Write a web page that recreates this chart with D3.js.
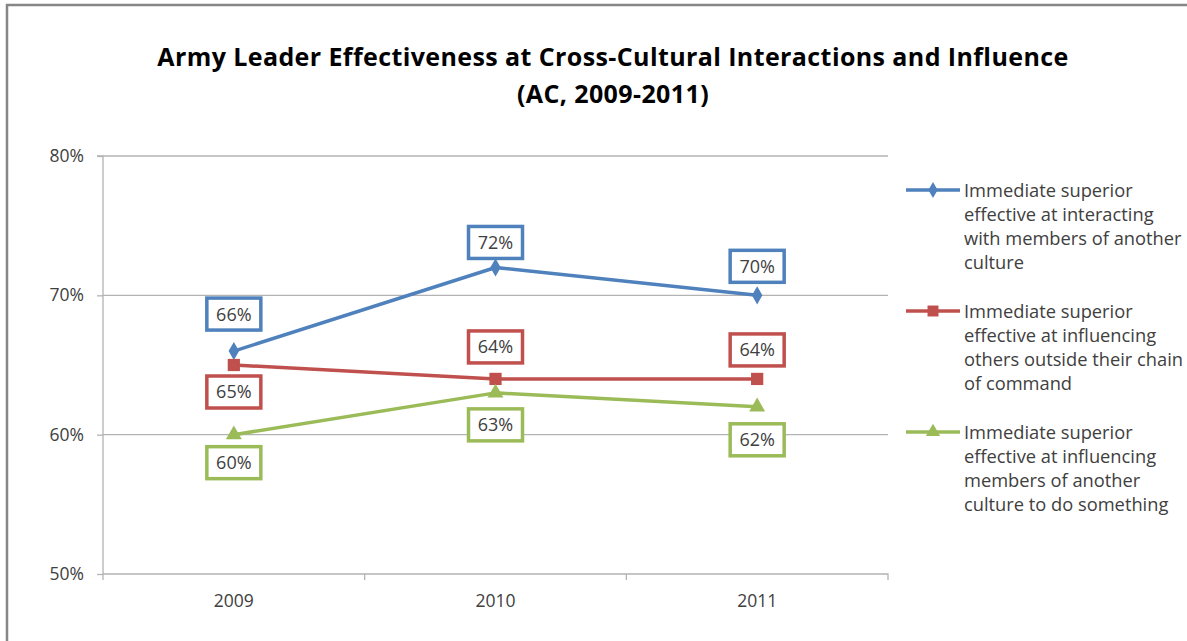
<!DOCTYPE html>
<html>
<head>
<meta charset="utf-8">
<script src="https://cdn.jsdelivr.net/npm/d3@7"></script>
<style>
    body { margin: 0; background: #fff; }
    svg { display: block; font-family: "Open Sans", sans-serif; }
</style>
</head>
<body>
<svg id="chart"></svg>
<script>
// data
const years = ['2009', '2010', '2011'];
const interacting = [66, 72, 70];
const influencingOthers = [65, 64, 64];
const influencingCulture = [60, 63, 62];
const yTicks = [50, 60, 70, 80];
const seriesNames = [
    ['Immediate superior', 'effective at interacting', 'with members of another', 'culture'],
    ['Immediate superior', 'effective at influencing', 'others outside their chain', 'of command'],
    ['Immediate superior', 'effective at influencing', 'members of another', 'culture to do something']
];

// look
const colors = ['#4F81BD', '#C0504D', '#9BBB59'];
const markers = [d3.symbolDiamond, d3.symbolSquare, d3.symbolTriangle];
const markerSize = [95, 150, 110];
// vertical offset of each data label box from its point
const labelDy = [
    [-37, -25, -29],
    [27, -32, -29],
    [28, 32, 33]
];

const width = 1187;
const height = 641;
const margin = { top: 156, left: 103, right: 299, bottom: 67 };

const svg = d3.select('#chart').attr('width', width).attr('height', height);

// chart frame
svg.append('rect')
    .attr('x', 7).attr('y', 5)
    .attr('width', 1200).attr('height', 700)
    .attr('fill', 'none')
    .attr('stroke', '#868686')
    .attr('stroke-width', 2.5);

// title
const title = svg.append('text')
    .attr('text-anchor', 'middle')
    .attr('font-weight', 'bold')
    .attr('font-size', 25)
    .attr('letter-spacing', 0.4)
    .attr('fill', '#000');
title.append('tspan').attr('x', 613).attr('y', 66)
    .text('Army Leader Effectiveness at Cross-Cultural Interactions and Influence');
title.append('tspan').attr('x', 613).attr('y', 103)
    .text('(AC, 2009-2011)');

const x = d3.scaleBand()
    .domain(years)
    .range([margin.left, width - margin.right]);

const y = d3.scaleLinear()
    .domain([50, 80])
    .range([height - margin.bottom, margin.top]);

// gridlines
svg.append('g')
    .selectAll('line')
    .data(yTicks.slice(1))
    .enter()
    .append('line')
    .attr('x1', margin.left)
    .attr('x2', width - margin.right)
    .attr('y1', d => y(d))
    .attr('y2', d => y(d))
    .attr('stroke', '#b3b3b3')
    .attr('stroke-width', 1.3);

// y axis
const yAxis = svg.append('g')
    .attr('transform', 'translate(' + margin.left + ',0)')
    .call(d3.axisLeft(y).tickValues(yTicks).tickFormat(d => d + '%').tickSize(6).tickPadding(13));
yAxis.select('.domain').attr('stroke', '#b3b3b3').attr('stroke-width', 1.3)
    .attr('d', 'M-6,' + y(80) + 'H0V' + y(50));
yAxis.selectAll('.tick line').attr('stroke', '#b3b3b3').attr('stroke-width', 1.3);
yAxis.selectAll('.tick text')
    .attr('font-size', 17.5)
    .attr('fill', '#404040')
    .attr('font-family', '"Open Sans", sans-serif');

// x axis
const xAxis = svg.append('g')
    .attr('transform', 'translate(0,' + y(50) + ')')
    .call(d3.axisBottom(x).tickSize(0).tickPadding(21));
xAxis.select('.domain').attr('stroke', '#b3b3b3').attr('stroke-width', 1.3)
    .attr('d', 'M' + margin.left + ',0H' + (width - margin.right) + 'V6');
xAxis.selectAll('.tick text')
    .attr('font-size', 17.5)
    .attr('fill', '#404040')
    .attr('font-family', '"Open Sans", sans-serif');
// tick marks between categories
svg.append('g')
    .selectAll('line')
    .data(years)
    .enter()
    .append('line')
    .attr('x1', d => x(d))
    .attr('x2', d => x(d))
    .attr('y1', y(50))
    .attr('y2', y(50) + 6)
    .attr('stroke', '#b3b3b3')
    .attr('stroke-width', 1.3);

const allSeries = [interacting, influencingOthers, influencingCulture];
const cx = d => x(d) + x.bandwidth() / 2;

const line = d3.line()
    .x((d, i) => cx(years[i]))
    .y(d => y(d));

allSeries.forEach(function (values, s) {
    const g = svg.append('g');

    g.append('path')
        .datum(values)
        .attr('d', line)
        .attr('fill', 'none')
        .attr('stroke', colors[s])
        .attr('stroke-width', 3.5)
        .attr('stroke-linejoin', 'round');

    g.selectAll('path.marker')
        .data(values)
        .enter()
        .append('path')
        .attr('class', 'marker')
        .attr('d', d3.symbol().type(markers[s]).size(markerSize[s]))
        .attr('transform', (d, i) => 'translate(' + cx(years[i]) + ',' + y(d) + ')')
        .attr('fill', colors[s]);

    // data labels
    const labels = g.selectAll('g.label')
        .data(values)
        .enter()
        .append('g')
        .attr('class', 'label')
        .attr('transform', (d, i) => 'translate(' + cx(years[i]) + ',' + (y(d) + labelDy[s][i]) + ')');

    labels.append('rect')
        .attr('x', -27).attr('y', -16)
        .attr('width', 54).attr('height', 32)
        .attr('fill', '#fff')
        .attr('stroke', colors[s])
        .attr('stroke-width', 3.5);

    labels.append('text')
        .attr('text-anchor', 'middle')
        .attr('dy', '0.36em')
        .attr('font-size', 18)
        .attr('fill', '#404040')
        .text(d => d + '%');
});

// legend
const legendTop = [190, 311, 432];
const legend = svg.append('g');
seriesNames.forEach(function (lines, s) {
    const row = legend.append('g')
        .attr('transform', 'translate(0,' + legendTop[s] + ')');
    row.append('line')
        .attr('x1', 906).attr('x2', 960)
        .attr('y1', 0).attr('y2', 0)
        .attr('stroke', colors[s])
        .attr('stroke-width', 3.5);
    row.append('path')
        .attr('d', d3.symbol().type(markers[s]).size(markerSize[s] * 0.8))
        .attr('transform', 'translate(933,0)')
        .attr('fill', colors[s]);
    row.append('text')
        .attr('font-size', 18.3)
        .attr('fill', '#404040')
        .selectAll('tspan')
        .data(lines)
        .enter()
        .append('tspan')
        .attr('x', 964)
        .attr('y', (d, i) => i * 24.3)
        .attr('dy', '0.36em')
        .text(d => d);
});
</script>
</body>
</html>
